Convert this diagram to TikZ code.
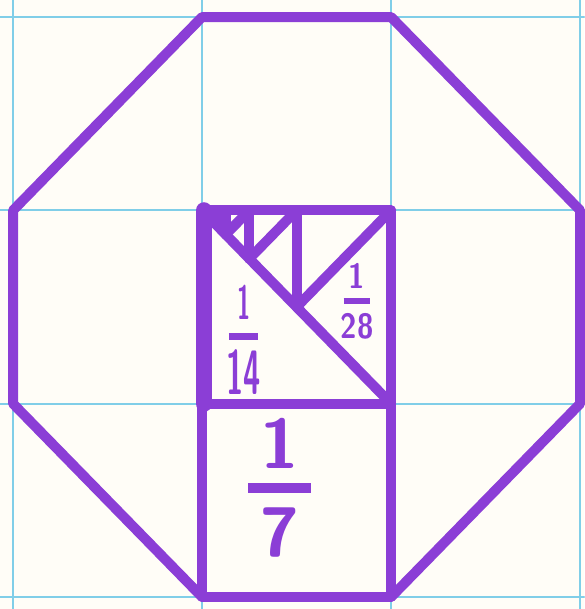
\documentclass[tikz,border=0pt]{standalone}
\definecolor{ink}{RGB}{139,62,214}
\definecolor{gridcyan}{RGB}{128,206,232}
\definecolor{paper}{RGB}{255,253,247}

\begin{document}
\begin{tikzpicture}[x=1.8cm, y=1.841cm, line join=round, line cap=round,
    pen/.style={ink, line width=2.7pt},
    fraclabel/.style={text=ink, inner sep=0pt, align=center}]
    \fill[paper] (-0.069,-0.062) rectangle (3.021,3.088);
    \useasboundingbox (-0.069,-0.062) rectangle (3.021,3.088);

    % squared paper
    \foreach \i in {0,1,2,3} {
        \draw[gridcyan, line width=0.6pt] (\i,-0.062) -- (\i,3.088);
        \draw[gridcyan, line width=0.6pt] (-0.069,\i) -- (3.021,\i);
    }

    % octagon of area 7
    \draw[pen] (1,0) -- (2,0) -- (3,1) -- (3,2) -- (2,3) -- (1,3)
        -- (0,2) -- (0,1) -- cycle;

    % the two unit squares
    \draw[pen] (1,0) -- (1,1) -- (2,1) -- (2,0);
    \draw[pen] (1,1) -- (2,1) -- (2,2) -- (1,2);
    \draw[ink, line width=4.4pt] (1.01,1) -- (1.01,2);

    % halving the upper square again and again
    \draw[pen] (1,2) -- (2,1);
    \draw[pen] (1.5,1.5) -- (2,2);
    \foreach \k in {0.5,0.25,0.125,0.0625} {
        \draw[pen] (1+\k,2-\k) -- (1+\k,2);
        \draw[pen] (1+0.5*\k,2-0.5*\k) -- (1+\k,2);
    }
    \fill[ink] (1,2) -- (1.11,2) -- (1.11,1.89) -- cycle;

    \path (1.41,0.565) node[fraclabel, font=\fontsize{19}{0}\selectfont\sffamily\bfseries] (sevenths)
        {1\\[3pt]\rule{0.9em}{2.6pt}\\[3pt]7};
    \path (1.22,1.33) node[fraclabel, xscale=0.5, font=\fontsize{13}{0}\selectfont\sffamily\bfseries] (fourteenths)
        {1\\[2.5pt]\rule{16pt}{2pt}\\[1.5pt]{\fontsize{17}{0}\selectfont 14}};
    \path (1.82,1.53) node[fraclabel, xscale=0.85, font=\fontsize{9.5}{0}\selectfont\sffamily\bfseries] (twentyeighths)
        {1\\[1.5pt]\rule{8.5pt}{1.6pt}\\[1.5pt]28};
\end{tikzpicture}
\end{document}
